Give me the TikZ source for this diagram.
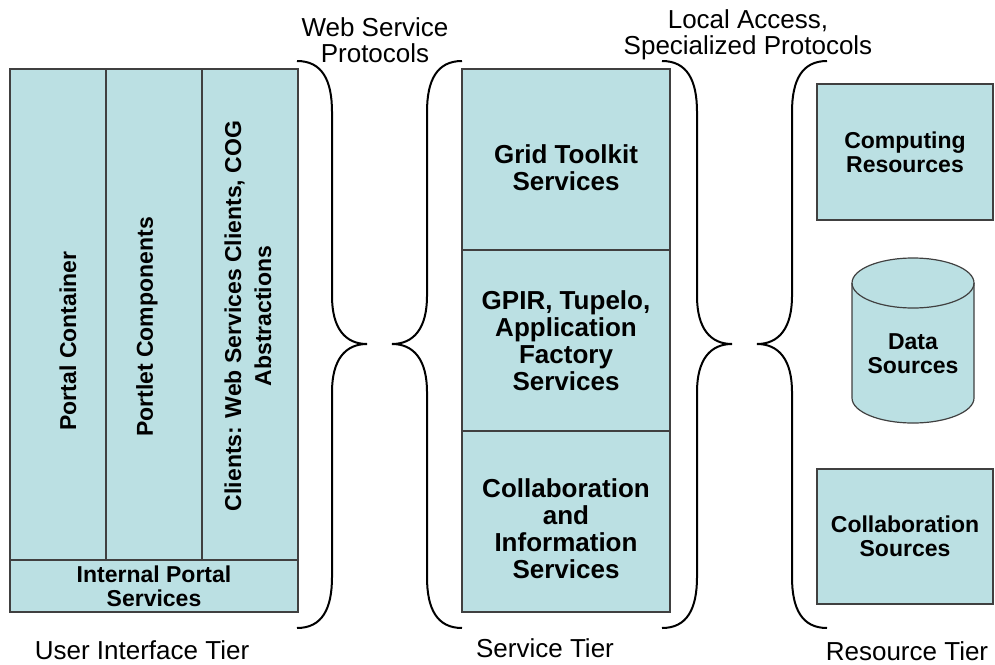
\documentclass[tikz,border=0pt]{standalone}
\usepackage{fontspec}
\setmainfont{Liberation Sans}
\usepackage{tikz}

\definecolor{tierfill}{RGB}{187,224,227}
\tikzset{
	tierbox/.style={draw=black!75, line width=1.2pt, fill=tierfill, inner sep=0pt},
	boxtext/.style={font=\fontsize{23}{24}\selectfont\bfseries, align=center},
	servicetext/.style={font=\fontsize{26}{27}\selectfont\bfseries, align=center},
	tiertext/.style={font=\fontsize{26}{26}\selectfont, align=center},
	brace/.style={line width=2pt}
}

\begin{document}
\begin{tikzpicture}[x=1pt, y=1pt]
	\useasboundingbox (0,0) rectangle (995,-664);
	
	% user interface tier
	\node[tierbox, minimum width=96pt, minimum height=491pt] (portal) at (58,-314.5) {};
	\node[tierbox, minimum width=96pt, minimum height=491pt] (portlet) at (154,-314.5) {};
	\node[tierbox, minimum width=96pt, minimum height=491pt] (clients) at (250,-314.5) {};
	\node[tierbox, boxtext, minimum width=288pt, minimum height=52pt] (internal) at (154,-586) {Internal Portal\\Services};
	
	\node[boxtext, rotate=90] (portaltext) at (68,-341) {Portal Container};
	\node[boxtext, rotate=90] (portlettext) at (147,-327) {Portlet Components};
	\node[boxtext, rotate=90, font=\fontsize{23}{30}\selectfont\bfseries] (clientstext) at (248,-316) {Clients: Web Services Clients, COG\\Abstractions};
	
	% service tier
	\node[tierbox, minimum width=208pt, minimum height=181pt] (grid) at (566,-159.5) {};
	\node[tierbox, servicetext, minimum width=208pt, minimum height=181pt] (gpir) at (566,-340.5) {GPIR, Tupelo,\\Application\\Factory\\Services};
	\node[tierbox, minimum width=208pt, minimum height=181pt] (collab) at (566,-521.5) {};
	\node[servicetext] (gridtext) at (566,-168) {Grid Toolkit\\Services};
	\node[servicetext] (collabtext) at (566,-529) {Collaboration\\and\\Information\\Services};
	
	% resource tier
	\node[tierbox, boxtext, minimum width=176pt, minimum height=136pt] (computing) at (905,-152) {Computing\\Resources};
	\filldraw[tierbox] (852,-283) -- (852,-398) arc[start angle=180, end angle=360, x radius=61, y radius=25] -- (974,-283) arc[start angle=0, end angle=180, x radius=61, y radius=25] -- cycle;
	\draw[tierbox, fill=none] (852,-283) arc[start angle=180, end angle=360, x radius=61, y radius=25];
	\node[boxtext] (datasrc) at (913,-354) {Data\\Sources};
	\node[tierbox, boxtext, minimum width=176pt, minimum height=135pt] (collabsrc) at (905,-536.5) {Collaboration\\Sources};
	
	% braces
	\foreach \dx in {0,365} {
		\draw[brace, xshift=\dx pt] (297,-61) .. controls (322,-61) and (332,-80) .. (332,-112) -- (332,-296) .. controls (332,-328) and (345,-344) .. (367,-344) .. controls (345,-344) and (332,-360) .. (332,-392) -- (332,-577) .. controls (332,-609) and (322,-628) .. (297,-628);
		\draw[brace, xshift=\dx pt] (462,-61) .. controls (437,-61) and (427,-80) .. (427,-112) -- (427,-296) .. controls (427,-328) and (414,-344) .. (392,-344) .. controls (414,-344) and (427,-360) .. (427,-392) -- (427,-577) .. controls (427,-609) and (437,-628) .. (462,-628);
	}
	
	% labels
	\node[tiertext] (wslabel) at (375,-40) {Web Service\\Protocols};
	\node[tiertext] (locallabel) at (748,-35) {Local Access,\\Specialized Protocols};
	\node[tiertext] (uitier) at (142,-650) {User Interface Tier};
	\node[tiertext] (svctier) at (545,-648) {Service Tier};
	\node[tiertext] (restier) at (907,-651) {Resource Tier};
\end{tikzpicture}
\end{document}
